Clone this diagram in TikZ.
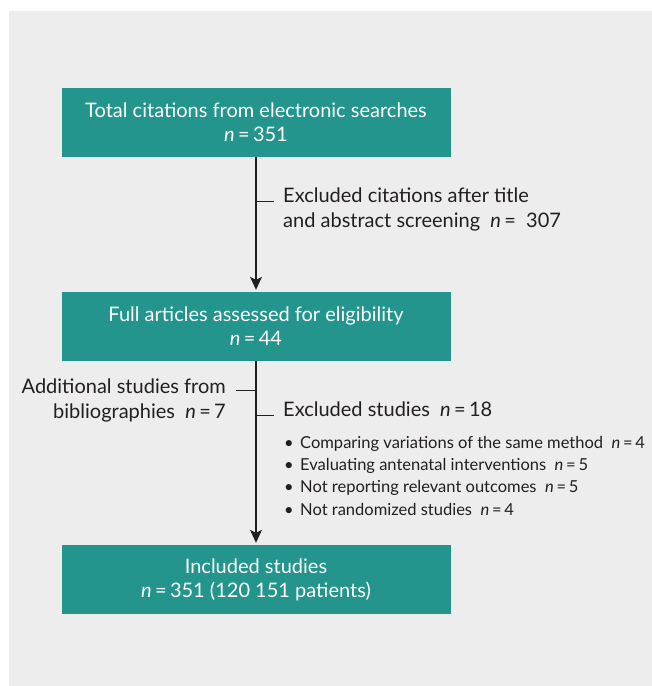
\documentclass[tikz,border=0pt]{standalone}
\usepackage{fontspec}
\setmainfont{Lato}
\usetikzlibrary{arrows.meta}

\definecolor{flowteal}{RGB}{35,149,141}
\definecolor{panelgray}{RGB}{237,237,237}
\definecolor{inkdark}{RGB}{35,31,32}

\begin{document}
\begin{tikzpicture}[x=1pt,y=-1pt,
    stage/.style={fill=flowteal,text=white,minimum width=389pt,minimum height=69pt,
      align=center,inner sep=0pt,font=\fontsize{20}{24}\selectfont},
    note/.style={text=inkdark,inner sep=0pt,font=\fontsize{20}{25}\selectfont},
    reason/.style={text=inkdark,inner sep=0pt,align=left,font=\fontsize{16.5}{22.3}\selectfont},
    flow/.style={draw=inkdark,line width=1.3pt,shorten >=2pt,-{Stealth[length=13pt,width=12pt,inset=3pt]}},
    branch/.style={draw=inkdark,line width=1.1pt}]

    % panel
    \useasboundingbox (0,0) rectangle (652,686);
    \fill[panelgray] (9,11) rectangle (652,686);

    % stages
    \node[stage] (total) at (256,122) {Total citations from electronic searches\\\textit{n}\,=\,351};
    \node[stage] (full) at (256,326.5) {Full articles assessed for eligibility\\\textit{n}\,=\,44};
    \node[stage] (incl) at (256,579.5) {Included studies\\\textit{n}\,=\,351 (120 151 patients)};

    \draw[flow] (total.south) -- (full.north);
    \draw[flow] (full.south) -- (incl.north);

    % side notes (base = last line)
    \coordinate (b_scr) at (256,201.7);
    \coordinate (b_add) at (256,390.7);
    \coordinate (b_exc) at (256,415.7);

    \node[note,align=left,anchor=base west] (scr) at (283,227)
      {Excluded citations after title\\and abstract screening\ \ \textit{n}\,=\ \ 307};
    \node[note,align=right,anchor=base east] (add) at (226,418)
      {Additional studies from\\bibliographies\ \ \textit{n}\,=\,7};
    \node[note,anchor=base west] (exc) at (283,416.7) {Excluded studies\ \ \textit{n}\,=\,18};
    \node[reason,anchor=base west] (why) at (284,515)
      {\makebox[16pt][l]{\textbullet}Comparing variations of the same method\ \ \textit{n}\,=\,4\\
       \makebox[16pt][l]{\textbullet}Evaluating antenatal interventions\ \ \textit{n}\,=\,5\\
       \makebox[16pt][l]{\textbullet}Not reporting relevant outcomes\ \ \textit{n}\,=\,5\\
       \makebox[16pt][l]{\textbullet}Not randomized studies\ \ \textit{n}\,=\,4};

    \draw[branch,shorten >=9pt] (b_scr) -- (b_scr -| scr.west);
    \draw[branch,shorten >=10pt] (b_add) -- (b_add -| add.east);
    \draw[branch,shorten >=9pt] (b_exc) -- (b_exc -| exc.west);
\end{tikzpicture}
\end{document}
